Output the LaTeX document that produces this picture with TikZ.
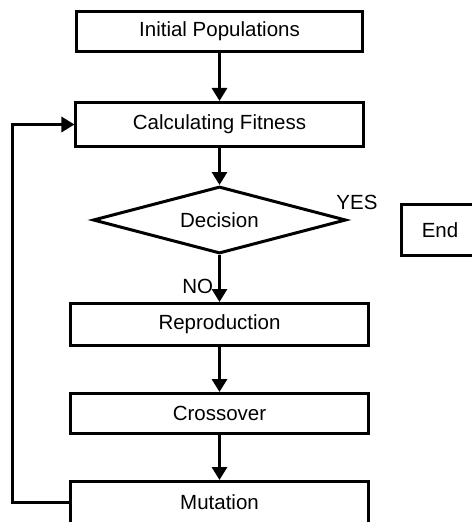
\documentclass[tikz,border=0pt]{standalone}
\usepackage{fontspec}
\setmainfont{Liberation Sans}
\usepackage{tikz}
\usetikzlibrary{arrows.meta,positioning,shapes.geometric}

\begin{document}
\begin{tikzpicture}[x=1bp,y=-1bp,line width=3bp,
    font=\fontsize{20.5bp}{24bp}\selectfont,
    >={Triangle[width=15bp,length=13bp]}]
\tikzstyle{blk}=[rectangle,draw=black,fill=white,inner sep=0pt,
                 minimum height=40bp,minimum width=297bp,align=center]
\tikzstyle{dcs}=[diamond,draw=black,fill=white,inner sep=0pt,aspect=3.8,
                 minimum width=253bp,minimum height=67bp]
\useasboundingbox (0,0) rectangle (472,522);
\node[blk,minimum width=286bp] (init) at (219.5,31.5) {Initial Populations};
\node[blk,below=48bp of init,minimum width=287bp,minimum height=44bp] (calc)
  {Calculating Fitness};
\node[dcs,below=37bp of calc] (dec) {Decision};
\node[blk,below=47bp of dec,minimum height=42bp] (rep) {Reproduction};
\node[blk,below=45bp of rep] (cro) {Crossover};
\node[blk,below=45bp of cro,minimum height=42bp] (mut) {Mutation};
\node[blk,minimum width=77bp,minimum height=51bp] (end) at (440,230) {End};
\node (yes) at (357,202) {YES};
\draw[->] (init) -- (calc);
\draw[->] (calc) -- (dec);
\draw[->] (dec) -- node[pos=0.66,left,inner sep=5bp]{NO} (rep);
\draw[->] (rep) -- (cro);
\draw[->] (cro) -- (mut);
\draw[->] (mut.west) -- ([xshift=-56.5bp]mut.west) |- (calc.west);
\end{tikzpicture}
\end{document}
